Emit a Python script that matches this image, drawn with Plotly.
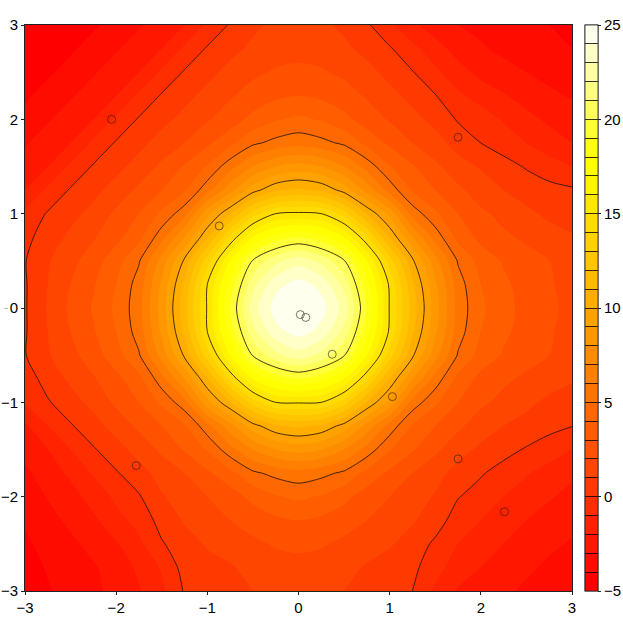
import colorsys
import plotly.graph_objects as go

x_vals = [-3 + 0.25 * k for k in range(25)]
y_vals = [3 - 0.25 * k for k in range(25)]
level_min = -5
level_max = 25

z_rows = [
 [-5,-4.7,-4.4,-4.15,-3.65,-3.1,-2.55,-2,-.8,.1,.8,1.2,1.3, 1.2,.8,.15,-.8,-1.8,-2.5,-3,-3.2,-3.45,-3.7,-4,-4.2],
 [-4.7,-4.4,-4.15,-3.65,-3.1,-2.55,-2,-.8,.1,.7,1.2,1.6,1.7, 1.6,1.2,.7,.1,-.7,-1.6,-2.4,-2.9,-3.2,-3.5,-3.7,-4],
 [-4.4,-4.15,-3.65,-3.1,-2.55,-2,-.8,.1,.7,1.3,1.8,2.1,2.2, 2.1,1.8,1.3,.7,.05,-.8,-1.6,-2.3,-2.7,-3,-3.3,-3.5],
 [-4.15,-3.65,-3.1,-2.55,-2,-.8,.1,.7,1.3,1.9,2.4,2.8,3.0, 2.8,2.4,1.9,1.3,.7,.05,-.8,-1.4,-1.9,-2.4,-2.8,-3.1],
 [-3.65,-3.1,-2.55,-2,-.8,.1,.7,1.3,1.9,2.5,3.3,3.9,4.2, 3.9,3.3,2.5,1.9,1.3,.7,-.1,-.5,-1.1,-1.7,-2.2,-2.55],
 [-3.1,-2.55,-2,-.8,.1,.7,1.4,2.0,2.8,3.7,4.8,5.3,5.6, 5.3,4.8,3.7,2.8,2,1.4,.6,0,-.5,-1,-1.5,-2],
 [-2.55,-2,-.8,.1,.7,1.4,2.2,3.1,4.1,5.6,7,8,8.4, 8,7,5.6,4.1,3.1,2.2,1.4,.9,.4,-.1,-.6,-1],
 [-2,-.8,.1,.7,1.4,2.2,3,3.9,5.6,7.6,9.6,10.8,11.2, 10.8,9.6,7.6,5.6,3.9,3,2.2,1.5,1,.6,.35,.15],
 [-.8,.1,.7,1.3,2.2,3,4.2,5.6,8.7,10.9,13.5,15,15.2, 15,13.5,10.9,8.7,5.6,4.2,3,2.2,1.7,1.2,.8,.5],
 [-.3,.5,1.2,1.9,2.7,3.7,5.6,8,10.9,14.2,17,18.4,19, 18.4,17,14.2,10.9,8,5.6,3.7,2.7,2.2,1.8,1.4,1.1],
 [-.05,.9,1.7,2.5,3.6,4.9,7.4,10.2,13.5,17,20.1,21.7,22.6, 21.7,20.1,17,13.5,10.2,7.4,4.9,3.6,2.9,2.4,2,1.5],
 [-.1,1.0,2.0,2.9,4.0,5.45,8.2,11.2,15,18.4,21.7,23.7,24.4, 23.7,21.7,18.4,14.8,11.2,8.2,5.45,4,3.2,2.6,2.1,1.7],
 [-.1,1.1,2.2,3.1,4.2,5.6,8.5,11.6,15.1,19,22.6,24.4,25, 24.4,22.6,19,14.9,11.6,8.5,5.6,4.2,3.3,2.7,2.2,1.7],
 [-.1,1.0,2.0,2.9,4.0,5.45,8.2,11.2,15,18.4,21.7,23.7,24.4, 23.7,21.7,18.4,14.8,11.2,8.2,5.45,4,3.2,2.6,2.1,1.7],
 [-.05,.9,1.7,2.5,3.6,4.9,7.4,10.2,13.5,17,20.1,21.7,22.6, 21.7,20.1,17,13.5,10.2,7.4,4.9,3.6,2.9,2.4,2,1.5],
 [-.5,.4,1.2,1.9,2.7,3.7,5.6,8,10.9,14.2,17,18.4,19, 18.4,17,14.2,10.9,8,5.6,3.7,2.7,2.2,1.8,1.4,1.1],
 [-.9,-.1,.6,1.3,2.2,3,4.2,5.6,8.7,10.9,13.5,15,15.1, 15,13.5,10.9,8.7,5.6,4.2,3,2.2,1.7,1.2,.8,.6],
 [-2.2,-1,-.1,.6,1.4,2.2,3,3.9,5.6,7.6,9.6,10.8,11.2, 10.8,9.6,7.6,5.6,3.9,3,2.2,1.5,1,.7,.3,.03],
 [-2.7,-2,-1,-.1,.6,1.4,2.2,3.1,4.1,5.6,7,8,8.4, 8,7,5.6,4.1,3.1,2.2,1.4,.8,.35,-.1,-.5,-1],
 [-3.2,-2.5,-1.8,-.9,-.1,.6,1.4,2,2.8,3.7,4.8,5.3,5.6, 5.3,4.8,3.7,2.8,2,1.4,.6,.1,-.4,-.9,-1.4,-1.8],
 [-3.5,-2.95,-2.4,-1.6,-.8,-.1,.9,1.5,2,2.5,3.3,3.9,4.2, 3.9,3.3,2.5,2,1.5,.9,.05,-.4,-1,-1.5,-1.9,-2.3],
 [-3.85,-3.3,-2.8,-2.2,-1.3,-.7,.4,1.1,1.6,2,2.4,2.8,3, 2.8,2.4,2,1.6,1.1,.5,-.5,-1,-1.5,-2,-2.4,-2.75],
 [-4.2,-3.6,-3.2,-2.7,-2.1,-1.2,-.1,.6,1.1,1.4,1.8,2.1,2.2, 2.1,1.8,1.4,1.1,.6,-.2,-1,-1.6,-2,-2.4,-2.8,-3.1],
 [-4.5,-3.9,-3.7,-3.1,-2.6,-1.8,-.9,.4,.7,.9,1.3,1.6,1.7, 1.6,1.3,.9,.6,.25,-.6,-1.5,-2,-2.4,-2.8,-3.2,-3.5],
 [-4.8,-4.1,-3.6,-3.2,-2.7,-2.1,-1.2,.1,.4,.7,1,1.2,1.3, 1.2,1,.7,.4,.0,-1.2,-2.1,-2.4,-2.8,-3.2,-3.5,-3.8],
]

point_x = [-2.05, -0.87, 1.75, 0.02, 0.08, 0.37, 1.03, -1.78, 1.75, 2.26]
point_y = [2.0, 0.87, 1.81, -0.07, -0.10, -0.49, -0.94, -1.67, -1.60, -2.16]
axis_ticks = [-3, -2, -1, 0, 1, 2, 3]
bar_ticks = [-5, 0, 5, 10, 15, 20, 25]
band_edges = list(range(level_min, level_max + 1))
major_levels = dict(start=0, end=20, size=5)


def heat_colors(n):
    j = n // 4
    i = n - j
    out = []
    for k in range(i):
        out.append(colorsys.hsv_to_rgb(k / (i - 1) / 6, 1, 1))
    for k in range(j):
        s = (1 - 1 / (2 * j)) + k * ((1 / (2 * j)) - (1 - 1 / (2 * j))) / (j - 1)
        out.append(colorsys.hsv_to_rgb(1 / 6, s, 1))
    return ["rgb(%d,%d,%d)" % (round(r * 255), round(g * 255), round(b * 255)) for r, g, b in out]


colors = heat_colors(level_max - level_min)
n = len(colors)
colorscale = [[k / (n - 1), c] for k, c in enumerate(colors)]
stepped = []
for k, c in enumerate(colors):
    stepped += [[k / n, c], [(k + 1) / n, c]]
FONT = "Liberation Sans, Arial, sans-serif"
fill_levels = dict(start=level_min + 1, end=level_max - 1, size=1, coloring="fill", showlines=False)
SMOOTH = 0.8
bar_common = dict(
    thicknessmode="pixels", thickness=13, lenmode="pixels", len=566, x=(585 - 25) / 547, xanchor="left", xpad=0,
    y=1, yanchor="top", ypad=0, outlinecolor="#222", outlinewidth=0.8,
)

fig = go.Figure()
# hidden under the filled contours: they only carry the two stacked colour bars
fig.add_trace(go.Heatmap(
    x=x_vals, y=y_vals, z=z_rows, zmin=level_min, zmax=level_max, colorscale=stepped, hoverinfo="skip",
    colorbar=dict(bar_common, tickvals=bar_ticks, ticks="outside", ticklen=3, tickcolor="#222", tickwidth=0.8,
                  tickfont=dict(family=FONT, size=15, color="black")),
))
fig.add_trace(go.Heatmap(
    x=x_vals, y=y_vals, z=z_rows, zmin=level_min, zmax=level_max, colorscale=stepped, hoverinfo="skip",
    colorbar=dict(bar_common, tickvals=band_edges, ticks="inside", ticklen=13, tickcolor="rgba(0,0,0,0.8)",
                  tickwidth=0.8, showticklabels=False),
))
fig.add_trace(go.Contour(
    x=x_vals, y=y_vals, z=z_rows, colorscale=colorscale, contours=fill_levels,
    line=dict(width=0, smoothing=SMOOTH), showscale=False, hoverinfo="skip",
))
fig.add_trace(go.Contour(
    x=x_vals, y=y_vals, z=z_rows, showscale=False, hoverinfo="skip",
    contours=dict(major_levels, coloring="lines"),
    colorscale=[[0, "rgba(40,20,0,0.85)"], [1, "rgba(40,20,0,0.85)"]],
    line=dict(width=1, smoothing=SMOOTH),
))
fig.add_trace(go.Scatter(
    x=point_x, y=point_y, mode="markers", showlegend=False, hoverinfo="skip",
    marker=dict(symbol="circle-open", size=8, color="rgba(30,20,10,0.65)", line=dict(width=0.9)),
))
axis = dict(
    range=[-3, 3], tickvals=axis_ticks, ticks="outside", ticklen=3, tickwidth=0.8, tickcolor="#222",
    showline=True, linecolor="#222", linewidth=0.8, mirror=True, showgrid=False, zeroline=False,
    automargin=False, tickfont=dict(family=FONT, size=15, color="black"),
)
fig.update_layout(
    width=623, height=623, margin=dict(l=25, r=51, t=25, b=32, autoexpand=False),
    paper_bgcolor="white", plot_bgcolor="white",
    xaxis=axis, yaxis=axis, showlegend=False,
    annotations=[dict(x=(5.5 - 25) / 547, y=(591 - 308) / 566, xref="paper", yref="paper", text="~", showarrow=False,
                      xanchor="center", yanchor="middle", font=dict(size=7, color="#777", family=FONT))],
)
fig.write_html("out.html", config=dict(displayModeBar=False),
               post_script="document.body.style.margin='0';document.body.style.overflow='hidden';")
